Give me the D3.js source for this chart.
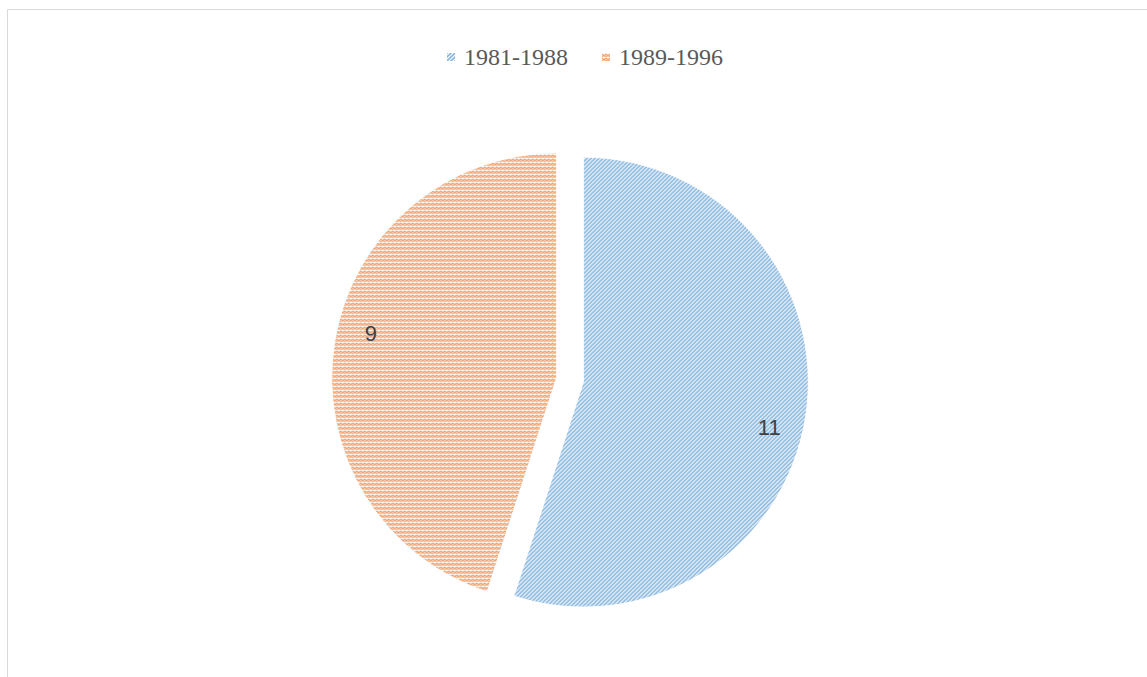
<!DOCTYPE html>
<html>
<head>
<meta charset="utf-8">
<script src="https://cdn.jsdelivr.net/npm/d3@7"></script>
<style>
  body { margin: 0; background: #fff; }
  svg { display: block; }
</style>
</head>
<body>
<div id="chart"></div>
<script>
// data
var periods = ["1981-1988", "1989-1996"];
var counts = [11, 9];
var colors = ["#5b9bd5", "#ed7d31"];
var patternIds = ["pat-blue", "pat-orange"];

var width = 1147, height = 677;

var svg = d3.select("#chart")
  .append("svg")
  .attr("width", width)
  .attr("height", height);

// patterns (excel style hatch fills)
var defs = svg.append("defs");

var pb = defs.append("pattern")
  .attr("id", "pat-blue")
  .attr("patternUnits", "userSpaceOnUse")
  .attr("width", 4)
  .attr("height", 4);
pb.append("rect").attr("width", 4).attr("height", 4).attr("fill", "#ffffff");
pb.append("path")
  .attr("d", "M-1,1 l2,-2 M0,4 l4,-4 M3,5 l2,-2")
  .attr("stroke", colors[0])
  .attr("stroke-width", 1.6)
  .attr("opacity", 0.75);

var po = defs.append("pattern")
  .attr("id", "pat-orange")
  .attr("patternUnits", "userSpaceOnUse")
  .attr("width", 4)
  .attr("height", 4);
po.append("rect").attr("width", 4).attr("height", 4).attr("fill", "#ffffff");
po.append("path")
  .attr("d", "M0,1 L2,3 L4,1 M0,3.5 L1,4.5 M3,4.5 L4,3.5")
  .attr("fill", "none")
  .attr("stroke", colors[1])
  .attr("stroke-width", 1.4)
  .attr("opacity", 0.75);

// chart border
svg.append("path")
  .attr("d", "M7.5," + (height + 2) + " V9.5 H" + (width + 2))
  .attr("fill", "none")
  .attr("stroke", "#d9d9d9")
  .attr("stroke-width", 1);

// pie
var cx = 570, cy = 380, radius = 225, explode = 13.5;

var pie = d3.pie().sort(null).value(function(d) { return d; });
var arcs = pie(counts);

var arc = d3.arc().innerRadius(0).outerRadius(radius);

var slices = svg.append("g")
  .attr("transform", "translate(" + cx + "," + cy + ")")
  .selectAll("g")
  .data(arcs)
  .enter()
  .append("g")
  .attr("transform", function(d) {
    var a = (d.startAngle + d.endAngle) / 2;
    return "translate(" + [Math.sin(a) * explode, -Math.cos(a) * explode] + ")";
  });

slices.append("path")
  .attr("d", arc)
  .attr("fill", function(d, i) { return "url(#" + patternIds[i] + ")"; })
  .attr("stroke", "#ffffff")
  .attr("stroke-width", 1);

// data labels (excel puts them a bit past the middle angle)
var labelShift = 0.08;
slices.append("text")
  .attr("transform", function(d) {
    var a = (d.startAngle + d.endAngle) / 2 + labelShift;
    var r = radius * 0.85;
    return "translate(" + [Math.sin(a) * r, -Math.cos(a) * r] + ")";
  })
  .attr("text-anchor", "middle")
  .attr("dy", "0.36em")
  .style("font-family", "'Liberation Sans'")
  .style("font-size", "22px")
  .attr("fill", "#404040")
  .text(function(d) { return d.data; });

// legend
var legendX = [447, 602];
var legend = svg.append("g")
  .selectAll("g")
  .data(periods)
  .enter()
  .append("g")
  .attr("transform", function(d, i) { return "translate(" + legendX[i] + ",57)"; });

legend.append("rect")
  .attr("x", 0)
  .attr("y", -4)
  .attr("width", 8)
  .attr("height", 8)
  .attr("fill", function(d, i) { return "url(#" + patternIds[i] + ")"; });

legend.append("text")
  .attr("x", 17)
  .attr("dy", "0.35em")
  .style("font-family", "'Liberation Serif'")
  .style("font-size", "24px")
  .attr("fill", "#595959")
  .text(function(d) { return d; });
</script>
</body>
</html>
